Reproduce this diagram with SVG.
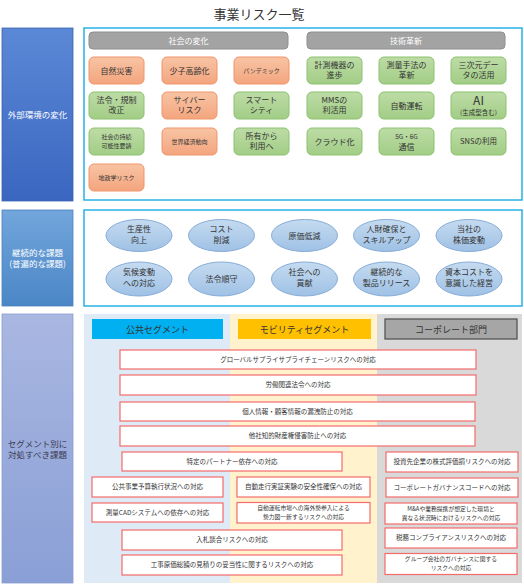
<svg xmlns="http://www.w3.org/2000/svg" width="524" height="584" viewBox="0 0 524 584">
<defs>
<linearGradient id="gBlue" x1="0" y1="0" x2="0" y2="1"><stop offset="0" stop-color="#5b88d6"/><stop offset="1" stop-color="#3a66c0"/></linearGradient>
<linearGradient id="gMid" x1="0" y1="0" x2="0" y2="1"><stop offset="0" stop-color="#72a6dc"/><stop offset="1" stop-color="#4b86c6"/></linearGradient>
<linearGradient id="gPeri" x1="0" y1="0" x2="0" y2="1"><stop offset="0" stop-color="#a9b7e1"/><stop offset="1" stop-color="#8a9fd6"/></linearGradient>
<linearGradient id="gOr" x1="0" y1="0" x2="0" y2="1"><stop offset="0" stop-color="#f8c4a4"/><stop offset="1" stop-color="#f3a57e"/></linearGradient>
<linearGradient id="gGr" x1="0" y1="0" x2="0" y2="1"><stop offset="0" stop-color="#bddca6"/><stop offset="1" stop-color="#a2cd86"/></linearGradient>
<linearGradient id="gEl" x1="0" y1="0" x2="0" y2="1"><stop offset="0" stop-color="#c5dbf0"/><stop offset="1" stop-color="#9fc1e5"/></linearGradient>
</defs>
<style>
text{font-family:"Noto Sans CJK JP","Noto Sans",sans-serif;fill:#333;text-anchor:middle}
.or{fill:url(#gOr);stroke:#f0956a;stroke-width:1}
.gr{fill:url(#gGr);stroke:#8cc26e;stroke-width:1}
.hd{fill:#a3a3a3;stroke:#8e8e8e;stroke-width:1}
.hdt{fill:#fff;font-size:8px}
.t8{font-size:8px}
.t6{font-size:6px}
.el{fill:url(#gEl);stroke:#86acd8;stroke-width:1}
.rk{fill:#fff;stroke:#f36b6b;stroke-width:1.2}
.rt{font-size:6.5px}
.rt2{font-size:5.8px}
.lbl{font-size:8.5px;fill:#fff}
.frame{fill:#fff;stroke:#29b2e6;stroke-width:1.5}
</style>
<rect width="524" height="584" fill="#fff"/>
<text x="259" y="19" style="font-size:13px;fill:#333">事業リスク一覧</text>

<!-- Section 1 -->
<g id="label-external">
<rect x="2" y="28" width="71" height="173" fill="url(#gBlue)" stroke="#3a62b0" stroke-width="0.8"/>
<text class="lbl" x="37.5" y="118">外部環境の変化</text>
</g>
<g id="frame-external"><rect class="frame" x="84" y="28" width="438" height="172"/></g>
<g id="hdr-society"><rect class="hd" x="89" y="32" width="199" height="17" rx="4"/><text class="hdt" x="188.5" y="43.5">社会の変化</text></g>
<g id="hdr-tech"><rect class="hd" x="307" y="32" width="198" height="17" rx="4"/><text class="hdt" x="406" y="43.5">技術革新</text></g>

<g id="n-disaster"><rect class="or" x="89" y="57" width="55" height="27" rx="5"/><text class="t8" x="116.5" y="73.5">自然災害</text></g>
<g id="n-aging"><rect class="or" x="162" y="57" width="55" height="27" rx="5"/><text class="t8" x="189.5" y="73.5">少子高齢化</text></g>
<g id="n-pandemic"><rect class="or" x="234" y="57" width="55" height="27" rx="5"/><text class="t6" x="261.5" y="73">パンデミック</text></g>
<g id="n-instr"><rect class="gr" x="307" y="57" width="55" height="27" rx="5"/><text class="t8" x="334.5" y="68">計測機器の</text><text class="t8" x="334.5" y="78">進歩</text></g>
<g id="n-survey"><rect class="gr" x="379" y="57" width="55" height="27" rx="5"/><text class="t8" x="406.5" y="68">測量手法の</text><text class="t8" x="406.5" y="78">革新</text></g>
<g id="n-3d"><rect class="gr" x="451" y="57" width="55" height="27" rx="5"/><text class="t8" x="478.5" y="68">三次元デー</text><text class="t8" x="478.5" y="78">タの活用</text></g>

<g id="n-law"><rect class="gr" x="89" y="92" width="55" height="27" rx="5"/><text class="t8" x="116.5" y="103">法令・規制</text><text class="t8" x="116.5" y="113">改正</text></g>
<g id="n-cyber"><rect class="or" x="162" y="92" width="55" height="27" rx="5"/><text class="t8" x="189.5" y="103">サイバー</text><text class="t8" x="189.5" y="113">リスク</text></g>
<g id="n-smart"><rect class="gr" x="234" y="92" width="55" height="27" rx="5"/><text class="t8" x="261.5" y="103">スマート</text><text class="t8" x="261.5" y="113">シティ</text></g>
<g id="n-mms"><rect class="gr" x="307" y="92" width="55" height="27" rx="5"/><text class="t8" x="334.5" y="103">MMSの</text><text class="t8" x="334.5" y="113">利活用</text></g>
<g id="n-auto"><rect class="gr" x="379" y="92" width="55" height="27" rx="5"/><text class="t8" x="406.5" y="108.5">自動運転</text></g>
<g id="n-ai"><rect class="gr" x="451" y="92" width="55" height="27" rx="5"/><text x="478.5" y="105" style="font-size:12px">AI</text><text x="478.5" y="115" style="font-size:6.5px">(生成型含む)</text></g>

<g id="n-sustain"><rect class="gr" x="89" y="128" width="55" height="27" rx="5"/><text class="t6" x="116.5" y="139">社会の持続</text><text class="t6" x="116.5" y="147.5">可能性要請</text></g>
<g id="n-economy"><rect class="or" x="162" y="128" width="55" height="27" rx="5"/><text class="t6" x="189.5" y="143.5">世界経済動向</text></g>
<g id="n-own"><rect class="gr" x="234" y="128" width="55" height="27" rx="5"/><text class="t8" x="261.5" y="139">所有から</text><text class="t8" x="261.5" y="149">利用へ</text></g>
<g id="n-cloud"><rect class="gr" x="307" y="128" width="55" height="27" rx="5"/><text class="t8" x="334.5" y="144.5">クラウド化</text></g>
<g id="n-5g"><rect class="gr" x="379" y="128" width="55" height="27" rx="5"/><text x="406.5" y="139" style="font-size:6.5px">5G・6G</text><text class="t8" x="406.5" y="149.5">通信</text></g>
<g id="n-sns"><rect class="gr" x="451" y="128" width="55" height="27" rx="5"/><text x="478.5" y="144" style="font-size:7.5px">SNSの利用</text></g>

<g id="n-geo"><rect class="or" x="89" y="164" width="55" height="27" rx="5"/><text class="t6" x="116.5" y="180">地政学リスク</text></g>

<!-- Section 2 -->
<g id="label-continuous">
<rect x="2" y="210" width="71" height="96" fill="url(#gMid)" stroke="#4a82c0" stroke-width="0.8"/>
<text class="lbl" x="37.5" y="256">継続的な課題</text>
<text class="lbl" x="37.5" y="267">(普遍的な課題)</text>
</g>
<g id="frame-continuous"><rect class="frame" x="84" y="210" width="438" height="96"/></g>
<g id="e-prod"><ellipse class="el" cx="139" cy="235.5" rx="33" ry="16"/><text class="t8" x="139" y="232">生産性</text><text class="t8" x="139" y="243">向上</text></g>
<g id="e-cost"><ellipse class="el" cx="221.5" cy="235.5" rx="33" ry="16"/><text class="t8" x="221.5" y="232">コスト</text><text class="t8" x="221.5" y="243">削減</text></g>
<g id="e-costdown"><ellipse class="el" cx="304.5" cy="235.5" rx="33" ry="16"/><text class="t8" x="304.5" y="238.5">原価低減</text></g>
<g id="e-hr"><ellipse class="el" cx="386.5" cy="235.5" rx="33" ry="16"/><text class="t8" x="386.5" y="232">人財確保と</text><text class="t8" x="386.5" y="243">スキルアップ</text></g>
<g id="e-stock"><ellipse class="el" cx="469" cy="235.5" rx="33" ry="16"/><text class="t8" x="469" y="232">当社の</text><text class="t8" x="469" y="243">株価変動</text></g>
<g id="e-climate"><ellipse class="el" cx="139" cy="279" rx="33" ry="17"/><text class="t8" x="139" y="275">気候変動</text><text class="t8" x="139" y="286">への対応</text></g>
<g id="e-comply"><ellipse class="el" cx="221.5" cy="279" rx="33" ry="17"/><text class="t8" x="221.5" y="282">法令順守</text></g>
<g id="e-society"><ellipse class="el" cx="304.5" cy="279" rx="33" ry="17"/><text class="t8" x="304.5" y="275">社会への</text><text class="t8" x="304.5" y="286">貢献</text></g>
<g id="e-release"><ellipse class="el" cx="386.5" cy="279" rx="33" ry="17"/><text class="t8" x="386.5" y="275">継続的な</text><text class="t8" x="386.5" y="286">製品リリース</text></g>
<g id="e-capital"><ellipse class="el" cx="469" cy="279" rx="33" ry="17"/><text class="t8" x="469" y="275">資本コストを</text><text class="t8" x="469" y="286">意識した経営</text></g>

<!-- Section 3 -->
<g id="label-segment">
<rect x="2" y="314" width="71" height="269" fill="url(#gPeri)" stroke="#8a9dd2" stroke-width="0.8"/>
<text x="37.5" y="447" style="font-size:8.5px;fill:#3a3a50">セグメント別に</text>
<text x="37.5" y="458" style="font-size:8.5px;fill:#3a3a50">対処すべき課題</text>
</g>
<g id="bg-segments">
<rect x="84" y="314" width="146" height="269" fill="#deeaf6"/>
<rect x="230" y="314" width="147" height="269" fill="#fff2cc"/>
<rect x="377" y="314" width="145" height="269" fill="#d9d9d9"/>
</g>
<g id="hdr-public"><rect x="92" y="319" width="131" height="20" fill="#00b0f0"/><text x="157.5" y="332.5" style="font-size:9px">公共セグメント</text></g>
<g id="hdr-mobility"><rect x="238" y="319" width="133" height="20" fill="#ffc000"/><text x="304.5" y="332.5" style="font-size:9px">モビリティセグメント</text></g>
<g id="hdr-corp"><rect x="385" y="319" width="132" height="20" fill="#a6a6a6" stroke="#555" stroke-width="1.3"/><text x="451" y="332.5" style="font-size:9px">コーポレート部門</text></g>

<g id="r-supply"><rect class="rk" x="120" y="350" width="356" height="19"/><text class="rt" x="298" y="361.8">グローバルサプライサプライチェーンリスクへの対応</text></g>
<g id="r-labor"><rect class="rk" x="120" y="375" width="356" height="20"/><text class="rt" x="298" y="387.3">労働関連法令への対応</text></g>
<g id="r-privacy"><rect class="rk" x="120" y="402" width="355" height="19"/><text class="rt" x="297.5" y="413.8">個人情報・顧客情報の漏洩防止の対応</text></g>
<g id="r-ip"><rect class="rk" x="120" y="426" width="355" height="20"/><text class="rt" x="297.5" y="438.3">他社知的財産権侵害防止への対応</text></g>
<g id="r-partner"><rect class="rk" x="122" y="452" width="220" height="19"/><text class="rt" x="232" y="463.8">特定のパートナー依存への対応</text></g>
<g id="r-invest"><rect class="rk" x="386" y="452" width="132" height="20"/><text class="rt" x="452" y="464.3">投資先企業の株式評価損リスクへの対応</text></g>
<g id="r-budget"><rect class="rk" x="92" y="477" width="131" height="20"/><text class="rt" x="157.5" y="489.3">公共事業予算執行状況への対応</text></g>
<g id="r-safety"><rect class="rk" x="237" y="477" width="133" height="20"/><text class="rt" x="303.5" y="489.3">自動走行実証実験の安全性確保への対応</text></g>
<g id="r-govcode"><rect class="rk" x="386" y="478" width="132" height="19"/><text class="rt" x="452" y="489.8">コーポレートガバナンスコードへの対応</text></g>
<g id="r-cad"><rect class="rk" x="92" y="503" width="131" height="19"/><text class="rt" x="157.5" y="514.8">測量CADシステムへの依存への対応</text></g>
<g id="r-foreign"><rect class="rk" x="237" y="502.5" width="133" height="20.5"/><text class="rt2" x="303.5" y="509.8">自動運転市場への海外勢参入による</text><text class="rt2" x="303.5" y="518.8">勢力図一新するリスクへの対応</text></g>
<g id="r-ma"><rect class="rk" x="385" y="503" width="132" height="21"/><text class="rt2" x="451" y="510.5">M&amp;Aや業務提携が想定した環境と</text><text class="rt2" x="451" y="519.5">異なる状況時におけるリスクへの対応</text></g>
<g id="r-bid"><rect class="rk" x="122" y="530" width="220" height="20"/><text class="rt" x="232" y="542.3">入札談合リスクへの対応</text></g>
<g id="r-tax"><rect class="rk" x="385" y="528" width="132" height="20"/><text class="rt" x="451" y="540.3">税務コンプライアンスリスクへの対応</text></g>
<g id="r-estimate"><rect class="rk" x="122" y="555" width="220" height="20"/><text class="rt" x="232" y="567.3">工事原価総額の見積りの妥当性に関するリスクへの対応</text></g>
<g id="r-group"><rect class="rk" x="385" y="553.5" width="132" height="21"/><text class="rt2" x="451" y="561">グループ会社のガバナンスに関する</text><text class="rt2" x="451" y="570">リスクへの対応</text></g>
</svg>
